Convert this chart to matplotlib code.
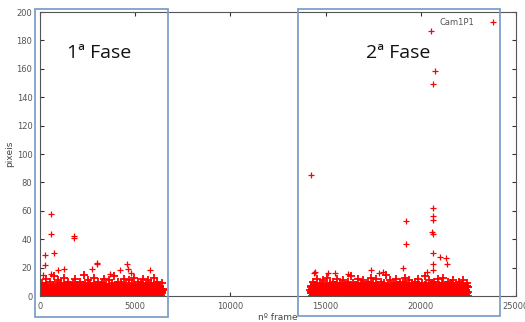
import numpy as np
import matplotlib
matplotlib.use("Agg")
import matplotlib.pyplot as plt
from matplotlib.patches import Rectangle

# ---- data (approximate) ----
p1_start, p1_end = 0, 6450
p1_vals = [3,6,2,9,4,1,7,5,12,3,8,2,5,10,4,6,1,3,7,14,
           5,2,8,4,11,3,6,1,9,5,2,7,13,4,3,8,6,2,10,5,
           1,4,7,3,9,6,2,12,5,3,8,4,1,6,10,2,7,5,3,15,
           4,8,2,6,11,3,5,9,1,7,4,2,13,6,3,8,5,1,10,4,
           7,2,6,9,3,5,12,4,8,2,6,1,7,11,3,5,9,2,4,14,
           6,3,8,1,5,10,2,7,4,9,3,6,12,2,5,8,1,4,7,3,
           11,6,2,9,5,3,13,4,8,1,6,10,3,7,2,5,9,4,12,1,
           6,3,8,5,2,11,4,7,3,9,6,1,5,13,2,8,4,10,3,6,
           7,2,5,9,4]
p1_mid = [5,2,6,3,7,4,2,5,8,3,6,2,4,7,3,5,1,6,4,8,
          2,5,3,7,4,6,2,8,3,5,4,6,2,7,5,3,6,4,8,2,
          5,3,7,4,2,6,5,3,8,4,2,7,3,5,6,2,4,8,3,5,
          7,2,4,6,3,5,8,2,4,7,3,6,5,2,8,4,3,6,2,7,
          4,5,3,8,2,6,4,7,3,5,2,6,8,4,3,5,7,2,6,4,
          3,8,5,2,6,4,7,3,5,2,8,4,6,3,7,5,2,4,6,8,
          3,5,2,7,4,6,3,8,5,2,4,7,3,6,5,2,8,4,3,6,
          5,2,7,4,3,6,8,2,5,4,7,3,6,2,5,8,4,3,7,5,
          2,6,4,3,5]
p1_low = [1,3,0,2,4,1,2,0,3,1,2,4,0,1,3,2,1,0,2,3,
          1,4,2,0,1,3,2,1,4,0,2,1,3,2,0,1,4,2,1,3,
          0,2,1,3,4,1,0,2,3,1,2,0,4,1,2,3,0,1,2,4,
          1,0,3,2,1,4,2,0,1,3,2,1,0,4,2,1,3,0,2,1,
          4,2,1,0,3,2,1,4,0,2,3,1,2,0,4,1,3,2,0,1,
          2,4,1,3,0,2,1,3,4,0,2,1,3,2,0,1,4,2,3,1,
          0,2,3,1,4,0,2,1,3,2,1,0,4,2,1,3,2,0,1,4,
          2,1,3,0,2,4,1,2,0,3,1,2,4,1,0,3,2,1,4,2,
          0,3,1,2,4]
p2_start, p2_end = 14200, 22500
p2_vals = [4,7,2,10,5,3,8,1,6,12,3,5,9,2,7,4,11,6,1,8,
           3,5,13,2,7,4,9,6,1,10,5,3,8,2,6,12,4,7,1,9,
           5,2,11,3,6,8,4,1,7,10,3,5,14,2,6,9,4,7,1,5,
           8,3,12,6,2,9,4,5,11,1,7,3,8,6,2,10,5,4,13,3,
           6,9,1,7,4,12,2,5,8,3,6,10,4,1,7,9,3,5,15,2,
           6,8,4,11,1,5,7,3,9,2,6,12,4,8,1,5,10,3,7,2,
           9,4,6,13,1,8,3,5,11,2,7,4,9,6,1,10,3,5,8,2,
           12,6,4,7,1,9,3,5,14,2,8,4,6,11,1,7,3,9,5,2,
           10,4,6,8,1,12,3,7,5,2,9,4,13,6,1,8,3,5,10,2,
           7,4,9,6,1,11,3,5,8,2,6,4,10,7,3,4,8,2,11,5,
           3,7,1,9,6]
p2_mid = [6,3,5,2,7,4,8,3,5,6,2,4,7,3,5,8,2,6,4,3,
          7,5,2,6,4,8,3,5,7,2,4,6,3,8,5,2,7,4,6,3,
          5,8,2,4,6,3,7,5,2,8,4,6,3,5,7,2,4,8,6,3,
          2,5,7,4,3,6,8,2,5,4,7,3,6,2,5,8,4,3,7,6,
          4,2,6,5,3,7,4,8,2,5,3,6,4,7,2,8,5,3,6,4,
          7,3,5,2,6,8,4,3,7,5,2,6,4,8,3,5,7,2,4,6,
          3,5,8,2,6,4,7,3,5,2,6,8,4,3,7,5,2,4,6,3,
          8,5,2,7,4,6,3,5,8,2,4,7,3,6,5,2,8,4,6,3,
          5,7,2,4,6,3,8,5,2,7,4,6,3,5,2,8,4,7,3,6,
          5,2,4,8,3,6,7,2,5,4,3,6,8,2,5,7,4,3,6,2,
          5,4,7,3,6]
p2_low = [2,0,3,1,4,2,1,0,3,2,4,1,0,2,3,1,2,4,0,1,
          3,2,1,4,0,2,1,3,2,0,4,1,2,3,1,0,2,4,1,3,
          2,0,1,3,4,2,1,0,2,3,1,4,0,2,1,3,2,1,4,0,
          1,3,2,0,4,1,2,3,0,1,2,4,1,3,0,2,1,4,2,0,
          3,1,2,4,0,1,3,2,1,0,4,2,3,1,0,2,1,3,4,2,
          0,1,3,2,4,1,0,2,3,1,2,4,0,1,3,2,1,0,4,2,
          1,3,2,0,1,4,2,1,3,0,2,1,4,3,0,2,1,3,2,4,
          0,1,2,3,4,1,0,2,3,1,4,2,0,1,3,2,4,1,0,2,
          3,1,2,4,0,1,3,2,1,4,0,2,3,1,2,0,4,1,3,2,
          1,0,2,4,3,1,2,0,4,1,3,2,1,0,2,4,1,3,2,0,
          1,4,2,3,0]
out_x = [560, 560, 740, 250, 260, 1770, 1770, 3000, 3000, 4560, 4600, 950, 1260,
         2740, 4200, 5790, 4800, 3700, 150, 600,
         14240, 14420, 14400, 15100, 15500, 16200, 18000, 19210, 19210, 19050,
         20560, 20760, 20650, 20650, 20620, 20650, 20600, 20650, 20650, 20650,
         20990, 21300, 21370, 20650, 17400, 17800, 20300]
out_y = [58, 44, 30, 29, 22, 42, 40.5, 23.5, 22.5, 22.5, 19, 18, 19,
         19, 18.5, 18.5, 16, 15.5, 15, 15.5,
         85, 17, 16, 16.5, 16, 15.5, 17, 53, 36.6, 20,
         186.8, 158.7, 149.3, 61.7, 56.3, 53.5, 44.8, 43.6, 30, 22.5,
         27.7, 26.8, 22.5, 18.3, 18, 16, 17]
series_name = "Cam1P1"

# ---- figure ----
W, H = 525, 322
fig = plt.figure(figsize=(W/100, H/100), dpi=100)
ax = fig.add_axes([40/W, 1-296/H, 476/W, 284/H])

red = "#ff0000"
mk = dict(marker="+", linestyle="none", color=red, ms=5.5, mew=1.3)
mk_out = dict(marker="+", linestyle="none", color=red, ms=4.5, mew=0.9)
for vals, a, b, off in [(p1_vals, p1_start, p1_end, 0), (p1_mid, p1_start, p1_end, 13),
                        (p1_low, p1_start, p1_end, 26), (p2_vals, p2_start, p2_end, 0),
                        (p2_mid, p2_start, p2_end, 13), (p2_low, p2_start, p2_end, 26)]:
    xs = np.linspace(a + off, b - 26 + off, len(vals))
    ax.plot(xs, vals, **mk)
ax.plot(out_x, out_y, **mk_out)
ax.plot([], [], **mk_out, label=series_name)

ax.set_xlim(0, 25000)
ax.set_ylim(0, 200)
ax.set_xticks([0, 5000, 10000, 15000, 20000, 25000])
ax.set_yticks(range(0, 201, 20))
ax.tick_params(direction="in", top=True, right=True, length=3, width=0.8,
               labelsize=6, labelcolor="#555555", color="#333333", pad=4)
ax.tick_params(axis="y", pad=5.5)
for s in ax.spines.values():
    s.set_color("#555555")
    s.set_linewidth(0.8)
ax.set_xlabel("nº frame", fontsize=6.5, color="#444444", labelpad=1.5)
ax.set_ylabel("pixeis", fontsize=6.5, color="#444444", labelpad=2)

leg = ax.legend(loc="upper right", frameon=False, markerfirst=False,
                fontsize=6, handletextpad=1.2, borderaxespad=0.3, handlelength=2,
                bbox_to_anchor=(1 - 9/476, 1))
for t in leg.get_texts():
    t.set_color("#555555")

# phase boxes (figure pixel coords)
box_col = "#7f9fc9"
for (x0, x1p, y0, y1p) in [(35, 168, 9, 317), (298, 500, 9, 316)]:
    fig.patches.append(Rectangle((x0/W, 1-y1p/H), (x1p-x0)/W, (y1p-y0)/H,
                                 transform=fig.transFigure, fill=False,
                                 edgecolor=box_col, linewidth=1.3))
fig.text(99/W, 1-53/H, "1ª Fase", ha="center", va="center", fontsize=14,
         family="Open Sans", color="#111111")
fig.text(398/W, 1-53/H, "2ª Fase", ha="center", va="center", fontsize=14,
         family="Open Sans", color="#111111")

fig.savefig("out.png", dpi=100, facecolor="white")
